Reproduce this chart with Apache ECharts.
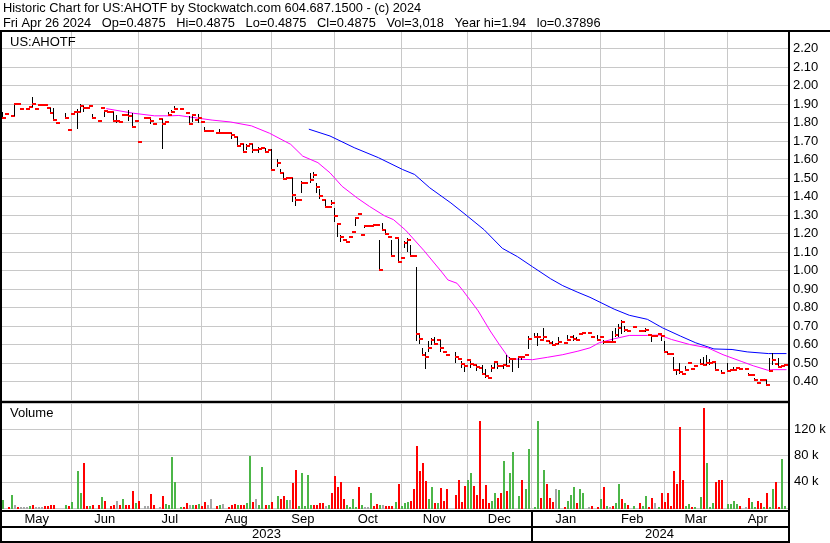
<!DOCTYPE html>
<html><head><meta charset="utf-8">
<script src="https://cdn.jsdelivr.net/npm/echarts@6/dist/echarts.min.js"></script>
<style>html,body{margin:0;padding:0;background:#fff}#c{width:830px;height:543px}</style>
</head><body><div id="c"></div>
<script>
// ---------- DATA ----------
const headerLine1 = 'Historic Chart for US:AHOTF by Stockwatch.com 604.687.1500 - (c) 2024';
const headerLine2 = 'Fri Apr 26 2024   Op=0.4875   Hi=0.4875   Lo=0.4875   Cl=0.4875   Vol=3,018   Year hi=1.94   lo=0.37896';
const symbolLabel = 'US:AHOTF';
const volumeLabel = 'Volume';
const firstDay = [2023, 4, 1];   // 2023-05-01
const lastDay = [2024, 3, 26];   // 2024-04-26
const monthNames = ['May','Jun','Jul','Aug','Sep','Oct','Nov','Dec','Jan','Feb','Mar','Apr'];
const yearNames = ['2023','2024'];

// daily close (one per weekday, null = no trade)
const closes = [
1.824,1.847,null,1.833,1.898,1.898,1.871,null,1.871,1.884,
1.898,1.871,1.895,1.895,1.895,1.876,1.851,1.816,1.795,null,
null,1.822,1.762,1.847,1.858,1.858,1.889,1.876,1.876,1.89,
1.825,null,1.81,1.88,1.86,1.858,1.858,1.81,1.808,1.80,
1.838,1.838,1.833,1.778,1.81,1.696,null,1.827,1.827,1.81,
1.79,null,1.818,1.79,1.80,1.84,1.855,1.873,null,1.871,
null,1.85,1.79,1.842,1.813,1.822,1.804,1.753,1.753,1.753,
null,1.742,1.742,1.742,1.742,1.742,1.733,1.72,1.673,1.686,
1.64,1.673,1.686,1.65,1.65,1.655,1.66,1.64,1.65,1.543,
null,1.579,1.525,1.492,1.50,1.50,1.407,1.38,1.38,1.474,
1.474,null,1.488,1.515,1.45,1.40,1.38,1.342,1.342,1.365,
1.293,1.25,1.18,1.163,1.152,1.18,1.207,1.282,1.307,1.19,
1.238,1.238,1.243,1.247,1.247,1.003,1.22,1.197,1.18,1.08,
1.178,1.045,1.067,1.15,1.164,1.078,1.078,0.655,0.631,0.544,
0.533,0.58,0.625,0.604,0.627,0.582,0.56,0.542,null,null,
0.533,0.522,0.496,0.484,0.514,0.496,0.487,0.48,0.473,0.44,
0.431,0.418,0.475,0.504,0.485,0.484,0.487,0.485,0.522,0.522,
null,0.531,0.531,0.544,0.631,null,0.642,0.642,0.625,0.64,
0.618,0.607,0.60,0.604,0.616,null,0.609,0.622,0.64,0.631,
0.627,0.658,0.664,null,0.662,0.642,null,0.627,0.64,0.616,
0.616,0.616,0.613,0.653,0.687,0.724,0.678,0.673,null,0.695,
null,0.671,0.671,0.678,0.653,0.645,0.645,0.658,0.645,0.56,
0.551,0.549,0.46,0.46,0.449,0.44,0.464,0.50,0.466,0.482,
null,0.495,0.489,0.50,0.502,0.505,0.462,null,0.445,null,
0.455,0.464,0.46,0.473,0.467,null,0.467,0.436,0.436,0.409,
0.391,0.409,0.409,0.38,0.455,0.515,0.496,0.478,0.485,0.4875
];

// days that show a high-low range
const hlDays = [0,4,10,16,17,21,25,26,27,30,34,37,38,42,43,49,53,55,56,57,62,63,65,67,72,74,76,78,80,81,83,85,87,89,91,92,93,96,97,99,102,103,104,105,107,109,110,111,112,117,120,125,126,127,129,131,133,134,135,137,138,139,140,141,142,143,145,150,152,153,155,157,159,160,162,163,164,166,167,168,169,171,172,174,176,177,179,181,182,184,187,189,190,197,199,202,203,204,205,206,213,215,218,219,220,222,223,224,226,231,232,233,234,236,238,240,242,247,249,253,254,255,257];
const highs = [1.856,1.90,1.94,1.876,1.876,1.853,1.871,1.90,1.887,1.847,1.87,1.858,1.838,1.87,1.85,1.818,1.818,1.855,1.87,1.89,1.836,1.845,1.847,1.773,1.764,1.75,1.742,1.72,1.686,1.686,1.686,1.67,1.66,1.655,1.602,1.549,1.529,1.50,1.398,1.483,1.528,1.53,1.474,1.44,1.38,1.38,1.34,1.257,1.19,1.29,1.244,1.164,1.257,1.22,1.164,1.17,1.16,1.175,1.14,1.02,0.65,0.58,0.56,0.62,0.636,0.64,0.627,0.56,0.51,0.49,0.51,0.49,0.49,0.47,0.49,0.51,0.50,0.49,0.545,0.53,0.518,0.531,0.535,0.645,0.66,0.66,0.69,0.618,0.618,0.64,0.65,0.65,0.64,0.65,0.627,0.673,0.69,0.71,0.733,0.70,0.69,0.653,0.653,0.62,0.56,0.53,0.47,0.50,0.482,0.52,0.535,0.542,0.52,0.50,0.46,0.50,0.478,0.445,0.418,0.409,0.527,0.555,0.525];
const lows = [1.82,1.833,1.884,1.851,1.816,1.82,1.765,1.858,1.856,1.825,1.833,1.81,1.795,1.81,1.778,1.79,1.656,1.833,1.853,1.866,1.79,1.80,1.80,1.749,1.742,1.742,1.71,1.673,1.64,1.655,1.64,1.64,1.64,1.543,1.56,1.525,1.49,1.369,1.35,1.42,1.474,1.50,1.42,1.384,1.342,1.352,1.265,1.184,1.15,1.24,1.23,1.003,1.22,1.197,1.08,1.045,1.12,1.10,1.078,0.618,0.60,0.544,0.47,0.56,0.60,0.60,0.56,0.50,0.47,0.45,0.47,0.46,0.44,0.42,0.45,0.47,0.47,0.47,0.485,0.50,0.455,0.473,0.52,0.573,0.64,0.59,0.63,0.60,0.60,0.60,0.62,0.62,0.62,0.62,0.607,0.607,0.64,0.64,0.66,0.67,0.671,0.615,0.62,0.56,0.546,0.455,0.44,0.44,0.455,0.49,0.487,0.49,0.49,0.46,0.44,0.455,0.455,0.436,0.40,0.379,0.455,0.49,0.475];

// daily volume in thousands (null = none)
const volumes = [
12,null,2,20,5,2,1,1.5,2,3.5,
5,2,2,2,2.5,2.5,4,4,null,null,
null,5,2.5,9,null,57,23,68,2.5,2.5,
4,null,4,17,11,null,2.5,4,11,4,
14,4,5,26,8,10,null,2.5,2.5,22,
4,null,2,18,6,5,78,39,null,2,
2,8,5,4,5,6,3,9,5,13,
null,2.5,4,6,null,2,5,6,5,4,
5,8,80,9,13,4,63,4,4,9,
null,18,14,18,12,12,38,58,2.5,54,
2.5,51,5,4,4,8,8,2.5,4,23,
49,32,39,13,5,2,13,2,32,5,
2,2,23,2.5,6,4,5,2.5,2.5,2.5,
9,36,2.5,8,9,10,29,94,57,69,
41,14,32,8,8,30,11,29,null,null,
20,43,9,33,43,54,33,20,132,14,
35,8,11,23,15,23,72,26,54,86,
null,18,42,29,90,null,2,132,15,58,
36,15,9,29,27,null,2,11,20,32,
8,29,23,null,2,3,null,2,14,32,
3,2,3,8,36,14,8,5,null,3,
null,8,3,18,2,15,8,2,23,9,
23,3,57,36,124,43,3,6,2,2,
null,17,153,69,2,8,39,43,43,null,
6,6,11,6,3,null,2,15,9,2,
11,8,2,23,2,29,39,2,75,3
];
// day direction: g = up, r = down, n = unchanged, . = none
const volumeDirection =
'g.rgnrnnng'+'rnnnrrrr..'+'.grg.ggrrg'+'r.rgr.rrnr'+'grrrgr.nnr'+'r.nrgggg.g'+
'rrngrgrrnn'+'.rg.grrrgr'+'rggrnggrgr'+'.grrgnrrgg'+'gggrrrrngr'+'rrrrggggrg'+
'nngrrgnrrr'+'grgggrrrrr'+'rggrgrrr..'+'rrrrggrrrr'+'rrggrrgrgg'+'.grgg.ggrg'+
'rrrng.rggg'+'rgg.nr.rgr'+'gnrggrgr.g'+'.rggrrngrr'+'rrrrrrggrg'+'.grgggrrr.'+
'ggggr.nrgg'+'rrgrggrrgg';

// moving averages (day index, value)
const maFastDays = [34,43,50,55,58,65,69,75,82,88,95,99,104,108,112,117,121,126,129,133,139,145,147,150,152,157,161,164,167,168,175,180,185,190,194,197,202,207,213,217,221,227,233,238,244,248,253,254,259];
const maFastVals = [1.875,1.85,1.836,1.836,1.838,1.822,1.813,1.803,1.782,1.742,1.682,1.618,1.583,1.528,1.455,1.392,1.347,1.296,1.275,1.218,1.109,0.991,0.949,0.931,0.891,0.782,0.673,0.60,0.531,0.522,0.518,0.531,0.545,0.564,0.582,0.609,0.631,0.649,0.649,0.651,0.627,0.60,0.582,0.545,0.509,0.485,0.46,0.464,0.464];
const maSlowDays = [101,108,116,124,132,136,141,148,153,159,165,170,175,181,185,190,194,202,207,213,218,224,229,235,241,246,253,259];
const maSlowVals = [1.764,1.727,1.664,1.61,1.546,1.519,1.447,1.365,1.30,1.22,1.12,1.075,1.02,0.955,0.918,0.882,0.855,0.791,0.758,0.736,0.69,0.645,0.609,0.576,0.573,0.56,0.551,0.551];

// axis settings
const priceMin = 0.3, priceMax = 2.3, priceStep = 0.1;
const volMin = 0, volMax = 160, volStep = 40;

// ---------- BUILD ----------
const FONT = '"Liberation Sans", Arial, sans-serif';
const dates = [];
{
  const d = new Date(Date.UTC(firstDay[0], firstDay[1], firstDay[2]));
  const end = Date.UTC(lastDay[0], lastDay[1], lastDay[2]);
  while (d.getTime() <= end) {
    const w = d.getUTCDay();
    if (w !== 0 && w !== 6) dates.push(d.toISOString().slice(0, 10));
    d.setUTCDate(d.getUTCDate() + 1);
  }
}
const N = dates.length;
const monthStarts = [];
dates.forEach((d, i) => { if (i === 0 || d.slice(5, 7) !== dates[i - 1].slice(5, 7)) monthStarts.push(i); });
const msSet = new Set(monthStarts.slice(1));
const yearStart = dates.findIndex(d => d.startsWith('2024'));

const priceData = [];
closes.forEach((c, i) => {
  if (c == null) return;
  const k = hlDays.indexOf(i);
  priceData.push([i, c, k >= 0 ? highs[k] : c, k >= 0 ? lows[k] : c]);
});
const dirCode = { g: 1, r: -1, n: 0 };
const volData = [];
volumes.forEach((v, i) => { if (v != null) volData.push([i, v, dirCode[volumeDirection[i]] ?? 0]); });
const volColor = { '1': '#4cb648', '-1': '#ff0000', '0': '#a6a6a6' };

function renderPrice(params, api) {
  const i = api.value(0), c = api.value(1), h = api.value(2), l = api.value(3);
  const pc = api.coord([i, c]);
  const x0 = Math.round(pc[0]) - 2;
  const ch = [];
  if (h > l) {
    const ph = api.coord([i, h]), pl = api.coord([i, l]);
    ch.push({ type: 'rect', shape: { x: x0, y: Math.round(ph[1]), width: 1, height: Math.max(1, Math.round(pl[1] - ph[1])) }, style: { fill: '#000' } });
  }
  ch.push({ type: 'rect', shape: { x: x0, y: Math.round(pc[1]) - 1, width: 4, height: 2 }, style: { fill: '#ff0000' } });
  return { type: 'group', children: ch };
}
function renderVol(params, api) {
  const i = api.value(0), v = api.value(1), d = api.value(2);
  const p = api.coord([i, v]), p0 = api.coord([i, 0]);
  const x0 = Math.round(p[0]) - 2;
  const top = Math.round(p[1]);
  return { type: 'rect', shape: { x: x0, y: top, width: 2, height: Math.max(1, Math.round(p0[1]) - top + 1) }, style: { fill: volColor[String(d)] } };
}

const gridLine = { show: true, lineStyle: { color: '#c8c8c8', width: 1 } };
const xBase = {
  type: 'category', data: dates, boundaryGap: true,
  axisLabel: { show: false }, axisTick: { show: false }, axisLine: { show: false },
  splitLine: { show: true, interval: (idx) => msSet.has(idx), lineStyle: { color: '#c8c8c8', width: 1 } }
};

const option = {
  animation: false,
  backgroundColor: '#fff',
  grid: [
    { left: 2, right: 42, top: 30, height: 370, outerBoundsMode: 'none', containLabel: false },
    { left: 2, right: 42, top: 403, height: 105, outerBoundsMode: 'none', containLabel: false }
  ],
  xAxis: [Object.assign({ gridIndex: 0 }, xBase), Object.assign({ gridIndex: 1 }, xBase)],
  yAxis: [
    { gridIndex: 0, type: 'value', position: 'right', min: priceMin, max: priceMax, interval: priceStep,
      axisLine: { show: false }, axisTick: { show: false }, splitLine: gridLine,
      axisLabel: { margin: 5, color: '#000', fontSize: 13, fontFamily: FONT,
        formatter: v => (v < priceMin + 0.05 || v > priceMax - 0.05) ? '' : v.toFixed(2) } },
    { gridIndex: 1, type: 'value', position: 'right', min: volMin, max: volMax, interval: volStep,
      axisLine: { show: false }, axisTick: { show: false }, splitLine: gridLine,
      axisLabel: { margin: 6, color: '#000', fontSize: 13, fontFamily: FONT,
        formatter: v => (v <= volMin || v >= volMax) ? '' : v + ' k' } }
  ],
  series: [
    { type: 'line', xAxisIndex: 0, yAxisIndex: 0, data: maSlowDays.map((d, k) => [d, maSlowVals[k]]),
      symbol: 'none', lineStyle: { color: '#0000ff', width: 1 }, z: 3, silent: true },
    { type: 'line', xAxisIndex: 0, yAxisIndex: 0, data: maFastDays.map((d, k) => [d, maFastVals[k]]),
      symbol: 'none', lineStyle: { color: '#ff00ff', width: 1 }, z: 3, silent: true },
    { type: 'custom', xAxisIndex: 0, yAxisIndex: 0, data: priceData, renderItem: renderPrice, z: 4, silent: true },
    { type: 'custom', xAxisIndex: 1, yAxisIndex: 1, data: volData, renderItem: renderVol, z: 4, silent: true }
  ]
};

const chart = echarts.init(document.getElementById('c'), null, { renderer: 'canvas' });
chart.setOption(option);

// frame, headings and date labels
const px = i => chart.convertToPixel({ xAxisIndex: 0 }, i);
const band = px(1) - px(0);
const edge = i => (i >= N ? px(N - 1) + band / 2 : px(i) - band / 2);
const txt = (text, x, y, align, size) => ({ type: 'text', x, y, z: 100,
  style: { text, fill: '#000', font: (size || 13) + 'px ' + FONT, align: align || 'left', verticalAlign: 'middle',
    textAlign: align || 'left', textVerticalAlign: 'middle' } });
const blk = (x, y, w, h) => ({ type: 'rect', z: 100, shape: { x, y, width: w, height: h }, style: { fill: '#000' } });

const g = [
  txt(headerLine1, 3, 8, 'left', 12.8), txt(headerLine2, 3, 23, 'left', 12.8),
  txt(symbolLabel, 10, 42), txt(volumeLabel, 10, 413),
  blk(0, 30, 830, 2), blk(0, 30, 2, 513), blk(788, 30, 2, 513),
  blk(0, 401, 790, 2), blk(0, 510, 790, 2), blk(0, 526, 790, 2), blk(0, 541, 790, 2)
];
monthStarts.forEach((s, k) => {
  const e = k + 1 < monthStarts.length ? monthStarts[k + 1] : N;
  g.push(txt(monthNames[k], (edge(s) + edge(e)) / 2, 519, 'center'));
});
g.push(txt(yearNames[0], (edge(0) + edge(yearStart)) / 2, 534, 'center'));
g.push(txt(yearNames[1], (edge(yearStart) + edge(N)) / 2, 534, 'center'));
g.push(blk(Math.round(edge(yearStart)), 512, 2, 29));
chart.setOption({ graphic: g });
</script></body></html>
